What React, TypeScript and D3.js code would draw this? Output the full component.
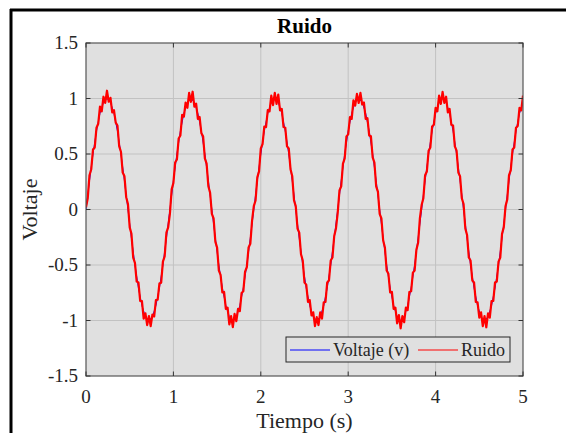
import React from 'react';
import * as d3 from 'd3';

// Señal limpia "Voltaje (v)", muestreada cada 0.04 s
const cleanStep = 0.04;
const cleanValues = [
  0, 0.259, 0.5, 0.707, 0.866, 0.966, 1, 0.966, 0.866, 0.707, 0.5, 0.259,
  0, -0.259, -0.5, -0.707, -0.866, -0.966, -1, -0.966, -0.866, -0.707, -0.5, -0.259,
  0, 0.259, 0.5, 0.707, 0.866, 0.966, 1, 0.966, 0.866, 0.707, 0.5, 0.259,
  0, -0.259, -0.5, -0.707, -0.866, -0.966, -1, -0.966, -0.866, -0.707, -0.5, -0.259,
  0, 0.259, 0.5, 0.707, 0.866, 0.966, 1, 0.966, 0.866, 0.707, 0.5, 0.259,
  0, -0.259, -0.5, -0.707, -0.866, -0.966, -1, -0.966, -0.866, -0.707, -0.5, -0.259,
  0, 0.259, 0.5, 0.707, 0.866, 0.966, 1, 0.966, 0.866, 0.707, 0.5, 0.259,
  0, -0.259, -0.5, -0.707, -0.866, -0.966, -1, -0.966, -0.866, -0.707, -0.5, -0.259,
  0, 0.259, 0.5, 0.707, 0.866, 0.966, 1, 0.966, 0.866, 0.707, 0.5, 0.259,
  0, -0.259, -0.5, -0.707, -0.866, -0.966, -1, -0.966, -0.866, -0.707, -0.5, -0.259,
  0, 0.259, 0.5, 0.707, 0.866, 0.966,
];

// Señal con ruido "Ruido", muestreada cada 0.02 s
const noisyStep = 0.02;
const noisyValues = [
  0.02, 0.101, 0.309, 0.363, 0.54, 0.559, 0.737, 0.773, 0.926, 0.884, 1.016, 0.961,
  1.07, 0.971, 1.006, 0.874, 0.896, 0.783, 0.757, 0.569, 0.52, 0.333, 0.299, 0.111,
  0.05, -0.161, -0.219, -0.433, -0.48, -0.649, -0.657, -0.823, -0.826, -0.984, -0.936, -1.041,
  -0.96, -1.051, -0.946, -0.964, -0.816, -0.813, -0.667, -0.659, -0.47, -0.423, -0.209, -0.161,
  -0.04, 0.181, 0.239, 0.423, 0.45, 0.639, 0.667, 0.853, 0.836, 0.964, 0.916, 1.051,
  0.97, 1.061, 0.926, 0.954, 0.816, 0.833, 0.687, 0.659, 0.46, 0.413, 0.209, 0.151,
  -0.04, -0.081, -0.289, -0.343, -0.55, -0.589, -0.747, -0.743, -0.896, -0.884, -1.036, -0.961,
  -1.06, -0.941, -1.006, -0.894, -0.916, -0.753, -0.737, -0.559, -0.52, -0.343, -0.309, -0.101,
  0.03, 0.081, 0.289, 0.343, 0.55, 0.589, 0.747, 0.743, 0.896, 0.884, 1.026, 0.941,
  1.05, 0.951, 1.036, 0.894, 0.906, 0.743, 0.737, 0.569, 0.55, 0.363, 0.299, 0.081,
  0.03, -0.171, -0.209, -0.403, -0.46, -0.659, -0.677, -0.833, -0.816, -0.954, -0.926, -1.051,
  -0.97, -1.041, -0.926, -0.984, -0.836, -0.833, -0.657, -0.639, -0.46, -0.433, -0.239, -0.171,
  -0.03, 0.171, 0.209, 0.413, 0.46, 0.659, 0.677, 0.833, 0.816, 0.984, 0.936, 1.041,
  0.96, 1.051, 0.946, 0.964, 0.816, 0.823, 0.667, 0.659, 0.47, 0.423, 0.209, 0.161,
  -0.04, -0.081, -0.279, -0.343, -0.55, -0.579, -0.747, -0.743, -0.896, -0.884, -1.026, -0.951,
  -1.07, -0.961, -1.016, -0.884, -0.906, -0.743, -0.737, -0.569, -0.55, -0.363, -0.299, -0.081,
  0.04, 0.101, 0.309, 0.343, 0.53, 0.559, 0.747, 0.763, 0.916, 0.884, 1.026, 0.951,
  1.06, 0.961, 1.016, 0.874, 0.906, 0.763, 0.757, 0.569, 0.53, 0.333, 0.299, 0.101,
  0.05, -0.171, -0.229, -0.433, -0.46, -0.639, -0.657, -0.833, -0.836, -0.974, -0.926, -1.051,
  -0.96, -1.061, -0.936, -0.974, -0.826, -0.823, -0.657, -0.649, -0.47, -0.433, -0.219, -0.161,
  0.03, 0.091, 0.309, 0.353, 0.54, 0.559, 0.737, 0.753, 0.916, 0.894, 1.026,
];

const xTicks = [0, 1, 2, 3, 4, 5];
const yTicks = [-1.5, -1, -0.5, 0, 0.5, 1, 1.5];
const xTickLabels = ['0', '1', '2', '3', '4', '5'];
const yTickLabels = ['-1.5', '-1', '-0.5', '0', '0.5', '1', '1.5'];

const W = 566;
const H = 433;
const plot = { left: 86, top: 43, right: 523, bottom: 376 };
const font = '"Liberation Serif", serif';

export default function App() {
  const x = d3.scaleLinear().domain([0, 5]).range([plot.left, plot.right]);
  const y = d3.scaleLinear().domain([-1.5, 1.5]).range([plot.bottom, plot.top]);

  const line = d3.line<number>()
    .x((d, i) => x(i * cleanStep))
    .y((d) => y(d));
  const noisyLine = d3.line<number>()
    .x((d, i) => x(i * noisyStep))
    .y((d) => y(d));

  const tickLen = 4.5;
  const axisColor = '#555';

  return (
    <svg width={W} height={H} style={{ position: 'absolute', left: 0, top: 0, display: 'block' }}>
      <rect x={0} y={0} width={W} height={H} fill="#fff" />
      {/* marco exterior */}
      <line x1={10} y1={10} x2={W} y2={10} stroke="#000" strokeWidth={3} />
      <line x1={11} y1={9} x2={11} y2={H} stroke="#000" strokeWidth={3} />

      <rect x={plot.left} y={plot.top} width={plot.right - plot.left} height={plot.bottom - plot.top} fill="#e0e0e0" />

      {/* rejilla */}
      {xTicks.slice(1, -1).map((t) => (
        <line key={'gx' + t} x1={x(t)} x2={x(t)} y1={plot.top} y2={plot.bottom} stroke="#c2c2c2" strokeWidth={1} />
      ))}
      {yTicks.slice(1, -1).map((t) => (
        <line key={'gy' + t} x1={plot.left} x2={plot.right} y1={y(t)} y2={y(t)} stroke="#c2c2c2" strokeWidth={1} />
      ))}

      <defs>
        <clipPath id="clip">
          <rect x={plot.left} y={plot.top} width={plot.right - plot.left} height={plot.bottom - plot.top} />
        </clipPath>
      </defs>
      <g clipPath="url(#clip)">
        <path d={line(cleanValues) || ''} fill="none" stroke="#0000ff" strokeWidth={1} />
        <path d={noisyLine(noisyValues) || ''} fill="none" stroke="#ff0000" strokeWidth={2.2} strokeLinejoin="round" />
      </g>

      {/* caja y marcas */}
      <rect x={plot.left} y={plot.top} width={plot.right - plot.left} height={plot.bottom - plot.top} fill="none" stroke={axisColor} strokeWidth={1.2} />
      {xTicks.map((t) => (
        <g key={'tx' + t}>
          <line x1={x(t)} x2={x(t)} y1={plot.bottom} y2={plot.bottom - tickLen} stroke="#333" />
          <line x1={x(t)} x2={x(t)} y1={plot.top} y2={plot.top + tickLen} stroke="#333" />
        </g>
      ))}
      {yTicks.map((t) => (
        <g key={'ty' + t}>
          <line x1={plot.left} x2={plot.left + tickLen} y1={y(t)} y2={y(t)} stroke="#333" />
          <line x1={plot.right} x2={plot.right - tickLen} y1={y(t)} y2={y(t)} stroke="#333" />
        </g>
      ))}

      {xTicks.map((t, i) => (
        <text key={'lx' + t} x={x(t)} y={403} textAnchor="middle" fontFamily={font} fontSize={19} fill="#262626">
          {xTickLabels[i]}
        </text>
      ))}
      {yTicks.map((t, i) => (
        <text key={'ly' + t} x={78} y={y(t) + 6} textAnchor="end" fontFamily={font} fontSize={19} fill="#262626">
          {yTickLabels[i]}
        </text>
      ))}

      <text x={(plot.left + plot.right) / 2} y={33} textAnchor="middle" fontFamily={font} fontSize={21} fontWeight="bold" fill="#000">
        Ruido
      </text>
      <text x={(plot.left + plot.right) / 2} y={428} textAnchor="middle" fontFamily={font} fontSize={22} fill="#262626">
        Tiempo (s)
      </text>
      <text transform={`translate(37, ${(plot.top + plot.bottom) / 2}) rotate(-90)`} textAnchor="middle" fontFamily={font} fontSize={22} fill="#262626">
        Voltaje
      </text>

      {/* leyenda */}
      <rect x={286} y={337} width={224} height={25} fill="#e0e0e0" stroke="#262626" strokeWidth={1} />
      <line x1={290} x2={330} y1={350} y2={350} stroke="#0000ff" strokeWidth={1} />
      <text x={333} y={356} fontFamily={font} fontSize={18} fill="#262626">Voltaje (v)</text>
      <line x1={418} x2={458} y1={350} y2={350} stroke="#ff0000" strokeWidth={1} />
      <text x={461} y={356} fontFamily={font} fontSize={18} fill="#262626">Ruido</text>
    </svg>
  );
}
